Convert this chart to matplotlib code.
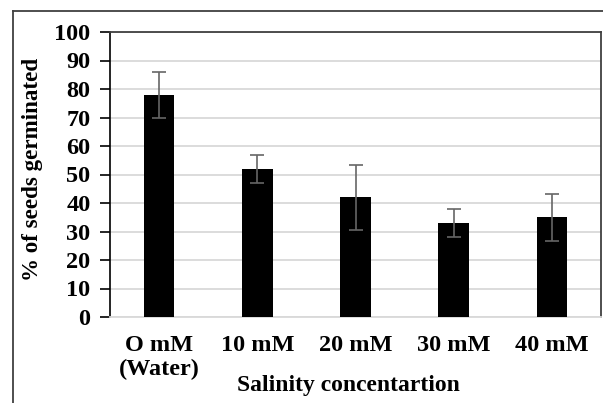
import matplotlib
matplotlib.use("Agg")
import matplotlib.pyplot as plt
from matplotlib.lines import Line2D

categories = ["O mM\n(Water)", "10 mM", "20 mM", "30 mM", "40 mM"]
germination = [78, 52, 42, 33, 35]
errors = [8, 5, 11.3, 5, 8.2]
yticks = [0, 10, 20, 30, 40, 50, 60, 70, 80, 90, 100]

plt.rcParams['font.family'] = ['Liberation Serif', 'DejaVu Serif']
plt.rcParams['font.weight'] = 'bold'

W, H = 603, 403
fig = plt.figure(figsize=(W / 100, H / 100), dpi=100)
fig.patch.set_facecolor('white')

ax = fig.add_axes([110 / W, 1 - 317 / H, (601 - 110) / W, (317 - 32) / H])
x = list(range(len(categories)))
ax.bar(x, germination, width=0.31, color='black', zorder=3)
ax.errorbar(x, germination, yerr=errors, fmt='none', ecolor='#666666',
            elinewidth=1.2, capsize=4.7, capthick=1.2, zorder=4)

ax.set_xlim(-0.5, len(categories) - 0.5)
ax.set_ylim(0, 100)
ax.set_yticks(yticks)
ax.set_yticklabels([str(v) for v in yticks], fontsize=17.5, fontweight='bold')
ax.set_xticks(x)
ax.set_xticklabels(categories, fontsize=17.5, fontweight='bold', linespacing=1.2)
ax.tick_params(axis='x', length=0, pad=13)
ax.tick_params(axis='y', length=7, width=1.2, pad=7, color='black', direction='out')

ax.yaxis.grid(True, color='#d9d9d9', linewidth=1.3, zorder=0)
ax.set_axisbelow(True)

ax.spines['left'].set_color('black')
ax.spines['left'].set_linewidth(1.2)
ax.spines['bottom'].set_color('#d9d9d9')
ax.spines['bottom'].set_linewidth(1.3)
ax.spines['top'].set_color('#404040')
ax.spines['top'].set_linewidth(1.3)
ax.spines['right'].set_color('#404040')
ax.spines['right'].set_linewidth(1.3)

fig.text(348 / W, 1 - 386 / H, "Salinity concentartion", ha='center', va='center',
         fontsize=17, fontweight='bold')
fig.text(33 / W, 1 - 169 / H, "% of seeds germinated", ha='center', va='center',
         rotation=90, fontsize=16.6, fontweight='bold')

# outer chart frame (left and top edges visible)
fig.add_artist(Line2D([13 / W, 13 / W], [0, 1 - 11 / H], transform=fig.transFigure,
                      color='#404040', linewidth=1.3))
fig.add_artist(Line2D([13 / W, 1], [1 - 11 / H, 1 - 11 / H], transform=fig.transFigure,
                      color='#404040', linewidth=1.3))

fig.savefig("out.png", dpi=100)
